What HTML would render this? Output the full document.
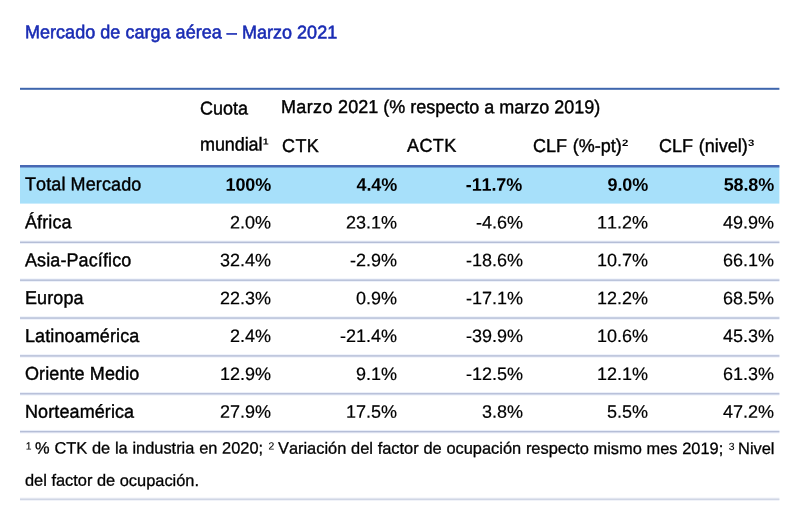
<!DOCTYPE html>
<html><head><meta charset="utf-8">
<style>
html,body{margin:0;padding:0;background:#fff;}
body{width:800px;height:530px;position:relative;overflow:hidden;font-family:"Liberation Sans",sans-serif;color:#000;font-kerning:none;}
#wrap{position:absolute;left:0;top:0;width:800px;height:530px;filter:blur(0.35px);}
.t,.n,.f{position:absolute;white-space:nowrap;line-height:20px;height:20px;transform-origin:0 16px;}
.t{font-size:18px;-webkit-text-stroke:0.4px currentColor;}
.n{font-size:18px;width:100px;text-align:right;-webkit-text-stroke:0.2px currentColor;}
.b{font-weight:bold;letter-spacing:-0.15px;-webkit-text-stroke:0;}
.f{font-size:16.4px;-webkit-text-stroke:0.3px currentColor;}
.s{display:inline-block;font-size:11.4px;font-weight:bold;position:relative;top:-6.2px;line-height:10px;height:10px;vertical-align:baseline;margin-left:0.1px;transform:scale(1,0.8);transform-origin:0 10px;-webkit-text-stroke:0;}
.f sup{font-size:10.4px;vertical-align:baseline;position:relative;top:-4.1px;line-height:0;-webkit-text-stroke:0.12px currentColor;margin-left:0.7px;margin-right:0.5px;}
svg{position:absolute;left:0;top:0;}
</style></head><body>
<div id="wrap">
<svg width="800" height="530" viewBox="0 0 800 530">
<rect x="20" y="166.00" width="759.4" height="37.60" fill="#a7e0fa"/>
<rect x="20" y="87.80" width="759.4" height="2.00" fill="#3f66ad"/>
<rect x="20" y="165.00" width="759.4" height="2.50" fill="#4768b3"/>
<rect x="20" y="240.60" width="759.4" height="3.40" fill="rgba(205,215,240,0.4)"/>
<rect x="20" y="241.60" width="759.4" height="1.40" fill="#b5bed7"/>
<rect x="20" y="278.47" width="759.4" height="3.40" fill="rgba(205,215,240,0.4)"/>
<rect x="20" y="279.47" width="759.4" height="1.40" fill="#b5bed7"/>
<rect x="20" y="316.34" width="759.4" height="3.40" fill="rgba(205,215,240,0.4)"/>
<rect x="20" y="317.34" width="759.4" height="1.40" fill="#b5bed7"/>
<rect x="20" y="354.21" width="759.4" height="3.40" fill="rgba(205,215,240,0.4)"/>
<rect x="20" y="355.21" width="759.4" height="1.40" fill="#b5bed7"/>
<rect x="20" y="392.08" width="759.4" height="3.40" fill="rgba(205,215,240,0.4)"/>
<rect x="20" y="393.08" width="759.4" height="1.40" fill="#b5bed7"/>
<rect x="20" y="429.95" width="759.4" height="3.40" fill="rgba(205,215,240,0.4)"/>
<rect x="20" y="430.95" width="759.4" height="1.40" fill="#b5bed7"/>
<rect x="20" y="497.55" width="759.4" height="3.40" fill="rgba(220,226,240,0.4)"/>
<rect x="20" y="498.55" width="759.4" height="1.40" fill="#cfd5e5"/>
</svg>
<div class="t" style="left:25.00px;top:22px;transform:translateY(0.20px) rotate(0.05deg) scale(1,1.03);color:#1a2cb4;letter-spacing:0.03px;-webkit-text-stroke-width:0.55px;">Mercado de carga aérea – Marzo 2021</div>
<div class="t" style="left:200.25px;top:98px;transform:translateY(0.55px) rotate(0.05deg) scale(1,1.03);">Cuota</div>
<div class="t" style="left:281.20px;top:97px;transform:translateY(0.00px) rotate(0.05deg) scale(1,1.03);"><span style="letter-spacing:0.35px">Marzo </span>2021 (% respecto a marzo 2019)</div>
<div class="t" style="left:199.90px;top:134px;transform:translateY(0.45px) rotate(0.05deg) scale(1,1.03);"><span style="letter-spacing:-0.1px">mundial</span><span class="s" style="top:-5.7px;font-size:10.6px;margin-left:0.3px">1</span></div>
<div class="t" style="left:281.90px;top:136px;transform:translateY(0.00px) rotate(0.05deg) scale(1,1.03);"><span style="letter-spacing:0.4px">CTK</span></div>
<div class="t" style="left:406.70px;top:135px;transform:translateY(0.80px) rotate(0.05deg) scale(1,1.03);"><span style="letter-spacing:0.4px">ACTK</span></div>
<div class="t" style="left:533.00px;top:136px;transform:translateY(0.00px) rotate(0.05deg) scale(1,1.03);"><span style="word-spacing:0.8px">CLF </span>(%-pt)<span class="s">2</span></div>
<div class="t" style="left:658.90px;top:136px;transform:translateY(0.00px) rotate(0.05deg) scale(1,1.03);"><span style="word-spacing:0.8px">CLF </span>(nivel)<span class="s">3</span></div>
<div class="t" style="left:25.00px;top:174px;transform:translateY(0.30px) rotate(0.05deg) scale(1,1.03);letter-spacing:0.1px;">Total Mercado</div>
<div class="n b" style="left:170.75px;width:100px;top:174px;transform:translateY(0.60px) rotate(0.05deg) scale(1,1.0);">100%</div>
<div class="n b" style="left:296.65px;width:100px;top:174px;transform:translateY(0.60px) rotate(0.05deg) scale(1,1.0);">4.4%</div>
<div class="n b" style="left:422.25px;width:100px;top:174px;transform:translateY(0.60px) rotate(0.05deg) scale(1,1.0);">-11.7%</div>
<div class="n b" style="left:547.95px;width:100px;top:174px;transform:translateY(0.60px) rotate(0.05deg) scale(1,1.0);">9.0%</div>
<div class="n b" style="left:673.85px;width:100px;top:174px;transform:translateY(0.60px) rotate(0.05deg) scale(1,1.0);">58.8%</div>
<div class="t" style="left:25.00px;top:212px;transform:translateY(0.30px) rotate(0.05deg) scale(1,1.03);letter-spacing:0.1px;">África</div>
<div class="n" style="left:171.10px;width:100px;top:212px;transform:translateY(0.40px) rotate(0.05deg) scale(1,1.0);">2.0%</div>
<div class="n" style="left:297.00px;width:100px;top:212px;transform:translateY(0.40px) rotate(0.05deg) scale(1,1.0);">23.1%</div>
<div class="n" style="left:422.60px;width:100px;top:212px;transform:translateY(0.40px) rotate(0.05deg) scale(1,1.0);">-4.6%</div>
<div class="n" style="left:548.30px;width:100px;top:212px;transform:translateY(0.40px) rotate(0.05deg) scale(1,1.0);">11.2%</div>
<div class="n" style="left:674.20px;width:100px;top:212px;transform:translateY(0.40px) rotate(0.05deg) scale(1,1.0);">49.9%</div>
<div class="t" style="left:25.00px;top:250px;transform:translateY(0.17px) rotate(0.05deg) scale(1,1.03);letter-spacing:0.1px;">Asia-Pacífico</div>
<div class="n" style="left:171.10px;width:100px;top:250px;transform:translateY(0.27px) rotate(0.05deg) scale(1,1.0);">32.4%</div>
<div class="n" style="left:297.00px;width:100px;top:250px;transform:translateY(0.27px) rotate(0.05deg) scale(1,1.0);">-2.9%</div>
<div class="n" style="left:422.60px;width:100px;top:250px;transform:translateY(0.27px) rotate(0.05deg) scale(1,1.0);">-18.6%</div>
<div class="n" style="left:548.30px;width:100px;top:250px;transform:translateY(0.27px) rotate(0.05deg) scale(1,1.0);">10.7%</div>
<div class="n" style="left:674.20px;width:100px;top:250px;transform:translateY(0.27px) rotate(0.05deg) scale(1,1.0);">66.1%</div>
<div class="t" style="left:25.00px;top:288px;transform:translateY(0.04px) rotate(0.05deg) scale(1,1.03);letter-spacing:0.1px;">Europa</div>
<div class="n" style="left:171.10px;width:100px;top:288px;transform:translateY(0.14px) rotate(0.05deg) scale(1,1.0);">22.3%</div>
<div class="n" style="left:297.00px;width:100px;top:288px;transform:translateY(0.14px) rotate(0.05deg) scale(1,1.0);">0.9%</div>
<div class="n" style="left:422.60px;width:100px;top:288px;transform:translateY(0.14px) rotate(0.05deg) scale(1,1.0);">-17.1%</div>
<div class="n" style="left:548.30px;width:100px;top:288px;transform:translateY(0.14px) rotate(0.05deg) scale(1,1.0);">12.2%</div>
<div class="n" style="left:674.20px;width:100px;top:288px;transform:translateY(0.14px) rotate(0.05deg) scale(1,1.0);">68.5%</div>
<div class="t" style="left:25.00px;top:325px;transform:translateY(0.91px) rotate(0.05deg) scale(1,1.03);letter-spacing:0.1px;">Latinoamérica</div>
<div class="n" style="left:171.10px;width:100px;top:326px;transform:translateY(0.01px) rotate(0.05deg) scale(1,1.0);">2.4%</div>
<div class="n" style="left:297.00px;width:100px;top:326px;transform:translateY(0.01px) rotate(0.05deg) scale(1,1.0);">-21.4%</div>
<div class="n" style="left:422.60px;width:100px;top:326px;transform:translateY(0.01px) rotate(0.05deg) scale(1,1.0);">-39.9%</div>
<div class="n" style="left:548.30px;width:100px;top:326px;transform:translateY(0.01px) rotate(0.05deg) scale(1,1.0);">10.6%</div>
<div class="n" style="left:674.20px;width:100px;top:326px;transform:translateY(0.01px) rotate(0.05deg) scale(1,1.0);">45.3%</div>
<div class="t" style="left:25.00px;top:363px;transform:translateY(0.78px) rotate(0.05deg) scale(1,1.03);letter-spacing:0.1px;">Oriente Medio</div>
<div class="n" style="left:171.10px;width:100px;top:363px;transform:translateY(0.88px) rotate(0.05deg) scale(1,1.0);">12.9%</div>
<div class="n" style="left:297.00px;width:100px;top:363px;transform:translateY(0.88px) rotate(0.05deg) scale(1,1.0);">9.1%</div>
<div class="n" style="left:422.60px;width:100px;top:363px;transform:translateY(0.88px) rotate(0.05deg) scale(1,1.0);">-12.5%</div>
<div class="n" style="left:548.30px;width:100px;top:363px;transform:translateY(0.88px) rotate(0.05deg) scale(1,1.0);">12.1%</div>
<div class="n" style="left:674.20px;width:100px;top:363px;transform:translateY(0.88px) rotate(0.05deg) scale(1,1.0);">61.3%</div>
<div class="t" style="left:25.00px;top:401px;transform:translateY(0.65px) rotate(0.05deg) scale(1,1.03);letter-spacing:0.1px;">Norteamérica</div>
<div class="n" style="left:171.10px;width:100px;top:401px;transform:translateY(0.75px) rotate(0.05deg) scale(1,1.0);">27.9%</div>
<div class="n" style="left:297.00px;width:100px;top:401px;transform:translateY(0.75px) rotate(0.05deg) scale(1,1.0);">17.5%</div>
<div class="n" style="left:422.60px;width:100px;top:401px;transform:translateY(0.75px) rotate(0.05deg) scale(1,1.0);">3.8%</div>
<div class="n" style="left:548.30px;width:100px;top:401px;transform:translateY(0.75px) rotate(0.05deg) scale(1,1.0);">5.5%</div>
<div class="n" style="left:674.20px;width:100px;top:401px;transform:translateY(0.75px) rotate(0.05deg) scale(1,1.0);">47.2%</div>
<div class="f" style="left:25.00px;top:437px;transform:translateY(0.40px) rotate(0.05deg) scale(1,1.0);word-spacing:0.2px;"><sup>1 </sup>% CTK de la industria en 2020; <sup>2 </sup>Variación del factor de ocupación respecto mismo mes 2019; <sup>3 </sup>Nivel</div>
<div class="f" style="left:25.00px;top:469px;transform:translateY(0.80px) rotate(0.05deg) scale(1,1.0);">del factor de ocupación.</div>
</div>
</body></html>
